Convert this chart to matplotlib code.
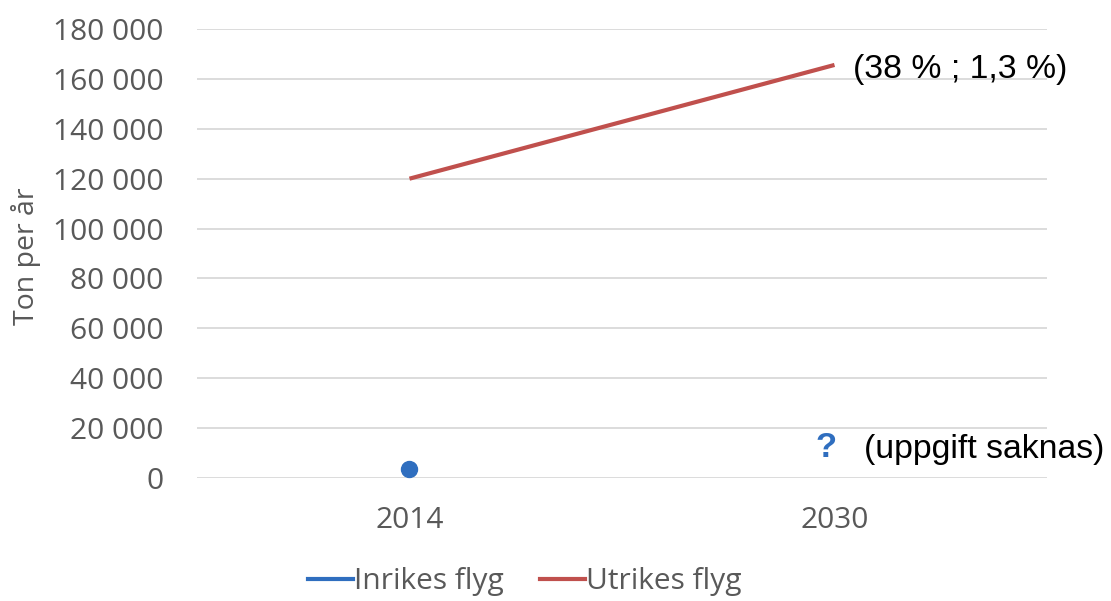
import matplotlib
matplotlib.use("Agg")
import matplotlib.pyplot as plt
from matplotlib.ticker import FuncFormatter, MultipleLocator

years = ["2014", "2030"]
inrikes = [3600, None]          # 2030 value missing
utrikes = [120000, 165600]
y_ticks_step = 20000
y_max = 180000

gray = "#595959"
grid_col = "#D9D9D9"
blue = "#2F6EBF"
red = "#C0504D"
tick_font = "Open Sans"
note_font = "Liberation Sans"

fig = plt.figure(figsize=(11.11, 6.01), dpi=100)
ax = fig.add_axes([0.1773, 0.2047, 0.7651, 0.7470])

x = list(range(len(years)))
ax.plot(x, utrikes, color=red, lw=3, solid_capstyle="butt", zorder=3)
ax.plot([x[0]], [inrikes[0]], "o", color=blue, ms=11.5, zorder=4)

ax.set_xlim(-0.5, len(years) - 0.5)
ax.set_ylim(0, y_max)
ax.yaxis.set_major_locator(MultipleLocator(y_ticks_step))
ax.yaxis.set_major_formatter(FuncFormatter(lambda v, p: f"{int(v):,}".replace(",", " ")))
ax.set_xticks(x)
ax.set_xticklabels(years)
ax.grid(axis="y", color=grid_col, lw=1.3)
ax.set_axisbelow(True)
for s in ax.spines.values():
    s.set_visible(False)
ax.tick_params(axis="both", length=0, labelcolor=gray, labelsize=21.5)
ax.tick_params(axis="y", pad=24)
ax.tick_params(axis="x", pad=20)
for lab in ax.get_xticklabels() + ax.get_yticklabels():
    lab.set_fontfamily(tick_font)

fig.text(26 / 1111, 1 - 256 / 601, "Ton per år", rotation=90, ha="center", va="center",
         fontsize=20.5, color=gray, family=tick_font)

# Growth note at the 2030 end of the international series
ax.annotate("(38 % ; 1,3 %)", xy=(x[1], utrikes[1]), xytext=(13.5, -3),
            textcoords="offset points", ha="left", va="center",
            fontsize=24.3, family=note_font, color="black")

# Missing domestic value for 2030
ax.text(0.98, 12400, "?", color=blue, fontsize=25, fontweight="bold",
        family=note_font, ha="center", va="center")
ax.annotate("(uppgift saknas)", xy=(x[1], 12400), xytext=(21, -1.5),
            textcoords="offset points", ha="left", va="center",
            fontsize=24.3, family=note_font, color="black")

h1, = ax.plot([], [], color=blue, lw=3)
h2, = ax.plot([], [], color=red, lw=3)
leg = fig.legend([h1, h2], ["Inrikes flyg", "Utrikes flyg"], loc="center",
                 bbox_to_anchor=(525 / 1111, 1 - 582 / 601), ncol=2, frameon=False,
                 handlelength=1.5, handletextpad=0.05, columnspacing=1.2,
                 prop={"family": tick_font, "size": 21.5})
for t in leg.get_texts():
    t.set_color(gray)

fig.savefig("out.png", dpi=100)
